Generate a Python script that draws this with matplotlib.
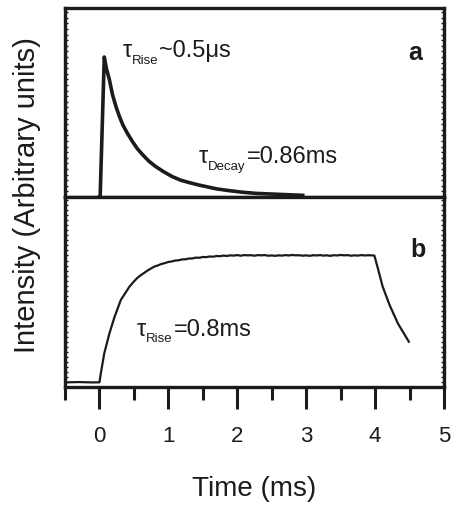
import matplotlib
matplotlib.use("Agg")
import matplotlib.pyplot as plt
from matplotlib.ticker import MultipleLocator, FixedLocator, NullFormatter

plt.rcParams["font.family"] = ["Liberation Sans", "DejaVu Sans"]

INK = "#1c1a1b"

# (a) transient after a short pulse: fast rise, slow decay
t_a = [0.0, 0.01, 0.07, 0.10, 0.145, 0.19, 0.24, 0.29, 0.34, 0.40, 0.48, 0.55,
       0.63, 0.72, 0.82, 0.94, 1.06, 1.18, 1.31, 1.43, 1.55, 1.70, 1.89, 2.08,
       2.27, 2.60, 2.95]
v_a = [0.0, 0.0, 1.0, 0.92, 0.836, 0.73, 0.645, 0.575, 0.514, 0.46, 0.395, 0.345,
       0.30, 0.255, 0.216, 0.178, 0.145, 0.12, 0.102, 0.087, 0.074, 0.058, 0.045,
       0.034, 0.026, 0.019, 0.012]

# (b) response to a 4 ms excitation pulse
t_b = [-0.46, -0.30, -0.10, 0.0, 0.02, 0.07, 0.145, 0.22, 0.31, 0.435, 0.50,
       0.55, 0.60, 0.65, 0.70, 0.75, 0.80, 0.85, 0.90, 0.95, 1.00,
       1.05, 1.10, 1.15, 1.20, 1.25, 1.30, 1.35, 1.40, 1.45, 1.50,
       1.55, 1.60, 1.65, 1.70, 1.75, 1.80, 1.85, 1.90, 1.95, 2.00,
       2.05, 2.10, 2.15, 2.20, 2.25, 2.30, 2.35, 2.40, 2.45, 2.50,
       2.55, 2.60, 2.65, 2.70, 2.75, 2.80, 2.85, 2.90, 2.95, 3.00,
       3.05, 3.10, 3.15, 3.20, 3.25, 3.30, 3.35, 3.40, 3.45, 3.50,
       3.55, 3.60, 3.65, 3.70, 3.75, 3.80, 3.85, 3.90, 3.95, 3.99,
       4.04, 4.11, 4.21, 4.33, 4.49]
v_b = [0.0, 0.002, -0.001, 0.0, 0.071, 0.229, 0.386, 0.517, 0.649, 0.754, 0.795,
       0.823, 0.845, 0.863, 0.882, 0.898, 0.913, 0.922, 0.933, 0.940, 0.949,
       0.953, 0.960, 0.962, 0.969, 0.970, 0.976, 0.977, 0.983, 0.982, 0.988,
       0.987, 0.992, 0.990, 0.996, 0.994, 0.999, 0.996, 1.001, 0.999, 1.003,
       0.998, 1.003, 1.001, 1.002, 0.998, 1.003, 1.001, 1.003, 0.998, 1.000,
       0.997, 1.001, 0.999, 1.003, 1.000, 1.004, 1.001, 1.002, 0.998, 1.001,
       0.997, 1.002, 1.000, 1.003, 0.999, 1.001, 0.997, 1.002, 1.000, 1.004,
       1.001, 1.003, 0.998, 1.001, 0.999, 1.003, 1.000, 1.002, 1.001, 0.999,
       0.899, 0.754, 0.610, 0.465, 0.320]

x_ticks = [0, 1, 2, 3, 4, 5]
x_labels = ["0", "1", "2", "3", "4", "5"]

fig = plt.figure(figsize=(4.56, 5.09), dpi=100)
L, R = 65 / 456, 444 / 456
ax_a = fig.add_axes([L, 1 - 197 / 509, R - L, 189 / 509])
ax_b = fig.add_axes([L, 1 - 387 / 509, R - L, 190 / 509])

for ax in (ax_a, ax_b):
    ax.set_xlim(-0.5, 5.0)
    for s in ax.spines.values():
        s.set_linewidth(2.4)
        s.set_color(INK)
    ax.xaxis.set_major_locator(FixedLocator(x_ticks))
    ax.xaxis.set_minor_locator(MultipleLocator(0.5))
    ax.tick_params(axis="x", which="major", direction="out", length=16,
                   width=2.2, color=INK, pad=12, labelsize=16, labelcolor=INK,
                   top=False)
    ax.tick_params(axis="x", which="minor", direction="out", length=9,
                   width=2.2, color=INK, top=False)
    # fine hatch marks along the vertical frame
    ax.yaxis.set_major_locator(MultipleLocator(0.04))
    ax.yaxis.set_major_formatter(NullFormatter())
    ax.tick_params(axis="y", which="major", direction="in", length=2,
                   width=1.0, color=INK, left=True, right=True)

ax_a.set_ylim(0, 1.35)
ax_b.set_ylim(-0.037, 1.461)
ax_a.tick_params(axis="x", which="both", labelbottom=False)
ax_b.set_xticks(x_ticks)
ax_b.set_xticklabels(x_labels)

ax_a.plot(t_a, v_a, color=INK, lw=2.6, solid_joinstyle="round", clip_on=False,
          zorder=3)
ax_b.plot(t_b, v_b, color=INK, lw=1.6, solid_joinstyle="round", zorder=3)


def tau_label(ax, x, y, sub, rest, size=17, subsize=9.5):
    t1 = ax.text(x, y, "τ", fontsize=size, color=INK, va="baseline")
    t2 = ax.annotate(sub, xy=(1, 0), xycoords=t1, xytext=(0.3, -3.4),
                     textcoords="offset points", fontsize=subsize, color=INK,
                     va="bottom", ha="left")
    ax.annotate(rest, xy=(1, 0), xycoords=(t2, t1), xytext=(0.6, 0),
                textcoords="offset points", fontsize=size, color=INK,
                va="bottom", ha="left")


tau_label(ax_a, 0.33, 0.998, "Rise", "~0.5μs")
tau_label(ax_a, 1.437, 0.241, "Decay", "=0.86ms")
tau_label(ax_b, 0.54, 0.368, "Rise", "=0.8ms")

ax_a.text(0.905, 0.725, "a", transform=ax_a.transAxes, fontsize=18,
          fontweight="bold", color=INK, va="baseline")
ax_b.text(0.910, 0.684, "b", transform=ax_b.transAxes, fontsize=18,
          fontweight="bold", color=INK, va="baseline")

ax_b.set_xlabel("Time (ms)", fontsize=20, color=INK, labelpad=21)
fig.text(27 / 456, 1 - 195 / 509, "Intensity (Arbitrary units)", fontsize=21,
         color=INK, rotation=90, ha="center", va="center")

fig.savefig("out.png", dpi=100)
